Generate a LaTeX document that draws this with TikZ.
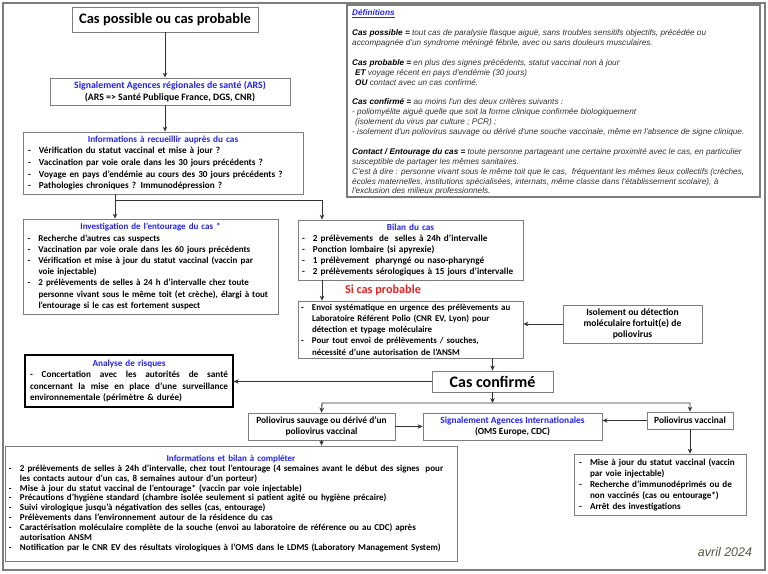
\documentclass[tikz,border=0pt]{standalone}
\usepackage{fontspec}
\setmainfont{Carlito}
\newfontfamily\arialfont{Liberation Sans}
\usetikzlibrary{
	calc,
	positioning,
	arrows.meta
}

\definecolor{bleutitre}{RGB}{35,35,235}
\definecolor{rougeprob}{RGB}{235,30,30}
\definecolor{gristrait}{RGB}{125,125,125}
\definecolor{texteital}{RGB}{50,50,50}
\definecolor{coldate}{RGB}{85,85,70}

\hyphenpenalty=10000
\exhyphenpenalty=10000

% titre bleu centré, puis puces
\newcommand{\titre}[1]{{\centering\textcolor{bleutitre}{#1}\par}}
\newcommand{\puce}[1]{\hangindent=11pt\hangafter=1\noindent\makebox[11pt][l]{-}#1\par}
\newcommand{\defmot}[1]{\textcolor{black}{\textbf{#1}}}

\begin{document}
\begin{tikzpicture}[
				x=1pt, y=-1pt,
				boite/.style={draw=gristrait, line width=0.8pt, fill=white, inner xsep=5pt, inner ysep=2pt, align=left, font=\fontsize{9.2}{11.6}\selectfont\bfseries},
				centre/.style={boite, align=center},
				grand/.style={centre, font=\bfseries},
				fleche/.style={-{Stealth[length=5pt, width=4.5pt]}, line width=0.9pt, draw=black!80},
				trait/.style={line width=0.9pt, draw=black!80}
			]
				\useasboundingbox (0,0) rectangle (768,573);
				% cadre général
				\draw[gristrait, line width=1.3pt] (3,3) rectangle (765,570);
				% colonne de gauche
				\node[grand, minimum width=186, minimum height=25, font=\fontsize{14.5}{17}\selectfont\bfseries] (cas-possible) at (165,19.5) {Cas possible ou cas probable};
				\node[centre, minimum width=240, minimum height=27, font=\fontsize{9.8}{11.5}\selectfont\bfseries] (ars) at (170,91.5) {\textcolor{bleutitre}{Signalement Agences régionales de santé (ARS)}\\(ARS => Santé Publique France, DGS, CNR)};
				\node[boite, text width=270, minimum height=62, font=\fontsize{9.2}{11.7}\selectfont\bfseries] (infos) at (163,163) {\titre{Informations à recueillir auprès du cas}
					\puce{Vérification du statut vaccinal et mise à jour ?}
					\puce{Vaccination par voie orale dans les 30 jours précédents ?}
					\puce{Voyage en pays d’endémie au cours des 30 jours précédents ?}
					\puce{Pathologies chroniques ? Immunodépression ?}};
				\node[boite, text width=246, inner xsep=4.5pt, minimum height=95, font=\fontsize{9.0}{11.2}\selectfont\bfseries] (investigation) at (150.5,266.5) {\titre{Investigation de l’entourage du cas *}
					\puce{Recherche d’autres cas suspects}
					\puce{Vaccination par voie orale dans les 60 jours précédents}
					\puce{Vérification et mise à jour du statut vaccinal (vaccin par\newline voie injectable)}
					\puce{2 prélèvements de selles à 24 h d’intervalle chez toute\newline personne vivant sous le même toit (et crèche), élargi à tout\newline l’entourage si le cas est fortement suspect}};
				% colonne du milieu
				\node[boite, text width=217, inner xsep=4pt, minimum height=60, font=\fontsize{9.2}{10.9}\selectfont\bfseries] (bilan) at (410.5,250) {\titre{Bilan du cas}
					\puce{2 prélèvements\ \ de\ \ selles à 24h d’intervalle}
					\puce{Ponction lombaire (si apyrexie)}
					\puce{1 prélèvement\ \ pharyngé ou naso-pharyngé}
					\puce{2 prélèvements sérologiques à 15 jours d’intervalle}};
				\node[font=\fontsize{12.2}{14}\selectfont\bfseries, text=rougeprob] (si-probable) at (383,290) {Si cas probable};
				\node[boite, text width=219, inner xsep=3pt, minimum height=57, font=\fontsize{8.9}{11.2}\selectfont\bfseries] (envoi) at (410.5,329.5) {%
					\puce{Envoi systématique en urgence des prélèvements au\newline Laboratoire Référent Polio (CNR EV, Lyon) pour\newline détection et typage moléculaire}
					\puce{Pour tout envoi de prélèvements / souches,\newline nécessité d’une autorisation de l’ANSM}};
				\node[centre, minimum width=139, minimum height=38, font=\fontsize{9.6}{11}\selectfont\bfseries] (isolement) at (632.5,324) {Isolement ou détection\\moléculaire fortuit(e) de\\poliovirus};
				\node[boite, draw=black, line width=1.3pt, text width=198, minimum height=52, font=\fontsize{9.2}{11.4}\selectfont\bfseries] (analyse) at (129,381) {\titre{Analyse de risques}
					\noindent\hbox to 198pt{-\hfill Concertation\hfill avec\hfill les\hfill autorités\hfill de\hfill santé}\newline
					\hbox to 198pt{concernant\hfill la\hfill mise\hfill en\hfill place\hfill d’une\hfill surveillance}\newline
					environnementale (périmètre \& durée)\par};
				\node[grand, minimum width=121, minimum height=21, font=\fontsize{16}{18}\selectfont\bfseries] (confirme) at (492.5,381.5) {Cas confirmé};
				% suite du cas confirmé
				\node[centre, minimum width=147, minimum height=27, font=\fontsize{9.4}{11}\selectfont\bfseries] (sauvage) at (321.5,426.5) {Poliovirus sauvage ou dérivé d’un\\poliovirus vaccinal};
				\node[centre, minimum width=179, minimum height=27, font=\fontsize{9.4}{11}\selectfont\bfseries] (signal-int) at (512.5,426.5) {\textcolor{bleutitre}{Signalement Agences Internationales}\\(OMS Europe, CDC)};
				\node[centre, minimum width=86, minimum height=17, font=\fontsize{9.4}{11}\selectfont\bfseries] (vaccinal) at (690,420.5) {Poliovirus vaccinal};
				\node[boite, text width=162, minimum height=61, font=\fontsize{9.1}{11}\selectfont\bfseries] (mise-a-jour) at (660,484.5) {%
					\puce{Mise à jour du statut vaccinal (vaccin\newline par voie injectable)}
					\puce{Recherche d’immunodéprimés ou de\newline non vaccinés (cas ou entourage*)}
					\puce{Arrêt des investigations}};
				\node[boite, text width=444, inner xsep=4pt, minimum height=115, font=\fontsize{9.0}{9.9}\selectfont\bfseries] (bilan-final) at (231,503.5) {\titre{Informations et bilan à compléter}
					\puce{2 prélèvements de selles à 24h d’intervalle, chez tout l’entourage (4 semaines avant le début des signes\ \ pour\newline les contacts autour d’un cas, 8 semaines autour d’un porteur)}
					\puce{Mise à jour du statut vaccinal de l’entourage* (vaccin par voie injectable)}
					\puce{Précautions d’hygiène standard (chambre isolée seulement si patient agité ou hygiène précaire)}
					\puce{Suivi virologique jusqu’à négativation des selles (cas, entourage)}
					\puce{Prélèvements dans l’environnement autour de la résidence du cas}
					\puce{Caractérisation moléculaire complète de la souche (envoi au laboratoire de référence ou au CDC) après\newline autorisation ANSM}
					\puce{Notification par le CNR EV des résultats virologiques à l’OMS dans le LDMS (Laboratory Management System)}};
				% définitions
				\node[draw=gristrait, line width=1.2pt, minimum width=413, minimum height=192] (definitions) at (553.5,101) {};
				\node[anchor=north west, inner sep=0pt, align=left, text=texteital, font=\arialfont\itshape\fontsize{8.2}{9.9}\selectfont] (definitions-texte) at (352,9.5) {%
					\textcolor{bleutitre}{\textbf{\underline{Définitions}}}\\[9.9pt]
					\defmot{Cas possible =} tout cas de paralysie flasque aiguë, sans troubles sensitifs objectifs, précédée ou\\
					accompagnée d'un syndrome méningé fébrile, avec ou sans douleurs musculaires.\\[9.9pt]
					\defmot{Cas probable =} en plus des signes précédents, statut vaccinal non à jour\\
					\hspace*{3pt}\defmot{ET} voyage récent en pays d'endémie (30 jours)\\
					\hspace*{3pt}\defmot{OU} contact avec un cas confirmé.\\[9.9pt]
					\defmot{Cas confirmé =} au moins l'un des deux critères suivants :\\
					- poliomyélite aiguë quelle que soit la forme clinique confirmée biologiquement\\
					\hspace*{3pt}(isolement du virus par culture ; PCR) ;\\
					- isolement d'un poliovirus sauvage ou dérivé d'une souche vaccinale, même en l'absence de signe clinique.\\[9.9pt]
					\defmot{Contact / Entourage du cas =} toute personne partageant une certaine proximité avec le cas, en particulier\\
					susceptible de partager les mêmes sanitaires.\\
					C'est à dire : personne vivant sous le même toit que le cas,\ \ fréquentant les mêmes lieux collectifs (crèches,\\
					écoles maternelles, institutions spécialisées, internats, même classe dans l'établissement scolaire), à\\
					l'exclusion des milieux professionnels.};
				\node[text=coldate, font=\arialfont\itshape\fontsize{12.5}{14}\selectfont] (date) at (725,552) {avril 2024};
				% points de branchement
				\coordinate (fourche)    at (115,200);
				\coordinate (vers-bilan) at (322,200);
				\coordinate (palier)     at (322,403);
				% flèches
				\draw[fleche] (cas-possible.south) -- (ars.north -| cas-possible.south);
				\draw[fleche] (ars.south -| cas-possible.south) -- (infos.north -| cas-possible.south);
				\draw[trait] (infos.south -| fourche) -- (fourche) -- (vers-bilan);
				\draw[fleche] (fourche) -- (investigation.north -| fourche);
				\draw[fleche] (vers-bilan) -- (bilan.north -| vers-bilan);
				\draw[fleche] (bilan.south -| vers-bilan) -- (envoi.north -| vers-bilan);
				\draw[fleche] (isolement.west) -- (envoi.east |- isolement.west);
				\draw[fleche] (envoi.south -| confirme.south) -- (confirme.north);
				\draw[fleche] (confirme.west) -- (analyse.east |- confirme.west);
				\draw[fleche] (confirme.south) -- (confirme.south |- palier);
				\draw[{Stealth[length=5pt, width=4.5pt]}-{Stealth[length=5pt, width=4.5pt]}, trait] (sauvage.north) -- (palier) -- (vaccinal.north |- palier) -- (vaccinal.north);
				\draw[fleche] (sauvage.east) -- (signal-int.west);
				\draw[fleche] (vaccinal.west) -- (signal-int.east |- vaccinal.west);
				\draw[fleche] (vaccinal.south) -- (mise-a-jour.north -| vaccinal.south);
				\draw[fleche] (sauvage.south) -- (bilan-final.north -| sauvage.south);
			\end{tikzpicture}
\end{document}
